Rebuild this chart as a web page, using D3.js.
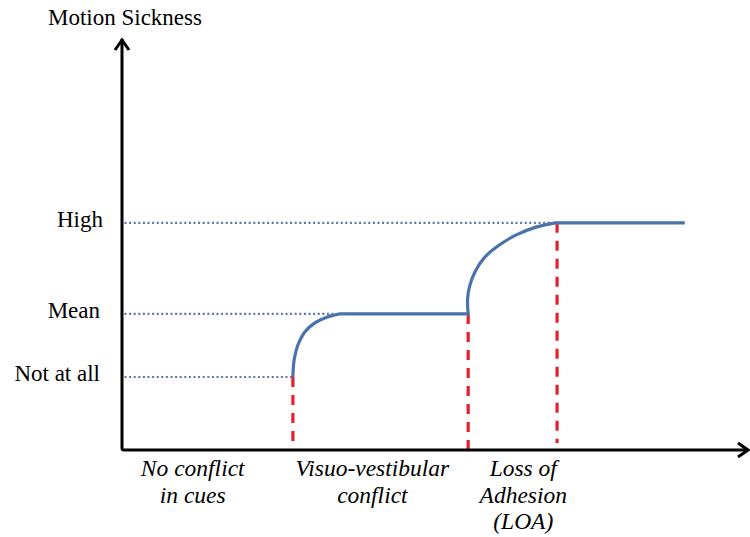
<!DOCTYPE html>
<html><head><meta charset="utf-8">
<script src="https://cdn.jsdelivr.net/npm/d3@7"></script>
<style>body{margin:0;background:#fff}svg{display:block}</style>
</head><body><svg id="c" width="750" height="537"></svg>
<script>
// Data
const levelLabels = ["Not at all", "Mean", "High"];
const levelValues = [1.78, 3.32, 5.54];
const stageLabels = [["No conflict", "in cues"], ["Visuo-vestibular", "conflict"], ["Loss of", "Adhesion", "(LOA)"]];
const stageCenters = [11.3, 40.0, 64.1];
const eventX = [27.3, 55.3, 69.5];          // red dashed markers
const eventTop = [1.78, 3.32, 5.54];
const eventBottom = [0.12, 0.0, 0.17];
const dottedEnd = [27.3, 34.0, 68.5];
const curveSeg = [0, 0, 0, 0, 0, 0, 0, 1, 2, 2, 2, 2, 2, 2, 2, 2, 3];
const curveX = [27.3, 27.5, 28.1, 29.2, 30.8, 32.7, 34.8, 55.3, 55.2, 55.5, 56.4, 58.0, 60.1, 62.9, 66.0, 69.2, 89.9];
const curveY = [1.78, 2.2, 2.56, 2.88, 3.1, 3.24, 3.32, 3.32, 3.66, 3.98, 4.35, 4.71, 4.98, 5.24, 5.43, 5.54, 5.54];

const svg = d3.select("#c");
const x = d3.scaleLinear().domain([0, 100]).range([122, 748]);
const y = d3.scaleLinear().domain([0, 10]).range([450, 40]);
const serif = "Liberation Serif";

// dotted guide lines
svg.selectAll(".guide").data(levelValues).enter().append("line")
  .attr("x1", x(0.4)).attr("x2", (d, i) => x(dottedEnd[i]))
  .attr("y1", d => y(d)).attr("y2", d => y(d))
  .attr("stroke", "#5d77a8").attr("stroke-width", 2.2)
  .attr("stroke-dasharray", "2,2.6");

// red dashed event lines
svg.selectAll(".evt").data(eventX).enter().append("line")
  .attr("x1", d => x(d)).attr("x2", d => x(d))
  .attr("y1", (d, i) => y(eventTop[i])).attr("y2", (d, i) => y(eventBottom[i]))
  .attr("stroke", "#e3202b").attr("stroke-width", 3.2)
  .attr("stroke-dasharray", "10,8");

// curve: each segment includes the previous segment's last point
const pts = curveX.map((v, i) => [v, curveY[i], curveSeg[i]]);
const segs = d3.range(4).map(s => {
  const idx = pts.map((p, i) => i).filter(i => pts[i][2] === s);
  const first = idx[0];
  return (first > 0 ? [pts[first - 1]] : []).concat(idx.map(i => pts[i]));
});
const line = d3.line().x(d => x(d[0])).y(d => y(d[1])).curve(d3.curveCatmullRom.alpha(0.5));
svg.append("path").attr("d", segs.map(s => line(s)).join(" ").replace(/ M/g, " L"))
  .attr("fill", "none")
  .attr("stroke", "#4a72ab").attr("stroke-width", 3.2).attr("stroke-linejoin", "round");

// axes
const ax = svg.append("g").attr("stroke", "#000").attr("stroke-width", 3).attr("fill", "none");
ax.append("path").attr("d", `M${x(0)},${y(0.9)} L${x(0)},${y(0)-2} Q${x(0)},${y(0)} ${x(0)+2},${y(0)} L${x(100)-1},${y(0)}`);
ax.append("path").attr("d", `M${x(0)},${y(0.9)} L${x(0)},${y(10)-1}`);
ax.append("path").attr("d", `M${x(0)-7},${y(10)+10} L${x(0)},${y(10)} L${x(0)+7},${y(10)+10}`);
ax.append("path").attr("d", `M${x(100)-10},${y(0)-7} L${x(100)},${y(0)} L${x(100)-10},${y(0)+7}`);

// titles / labels
svg.append("text").attr("x", x(0) + 3).attr("y", 25).attr("text-anchor", "middle")
  .attr("font-family", serif).attr("font-size", 23).text("Motion Sickness");

svg.selectAll(".lvl").data(levelLabels).enter().append("text")
  .attr("x", (d, i) => i === 2 ? 103 : 100)
  .attr("y", (d, i) => y(levelValues[i]) + 4)
  .attr("text-anchor", "end").attr("font-family", serif).attr("font-size", 23)
  .text(d => d);

stageLabels.forEach((lines, i) => {
  lines.forEach((t, j) => {
    svg.append("text").attr("x", x(stageCenters[i])).attr("y", 476 + j * 26.5)
      .attr("text-anchor", "middle").attr("font-family", serif).attr("font-style", "italic")
      .attr("font-size", 23.5).text(t);
  });
});
</script></body></html>
